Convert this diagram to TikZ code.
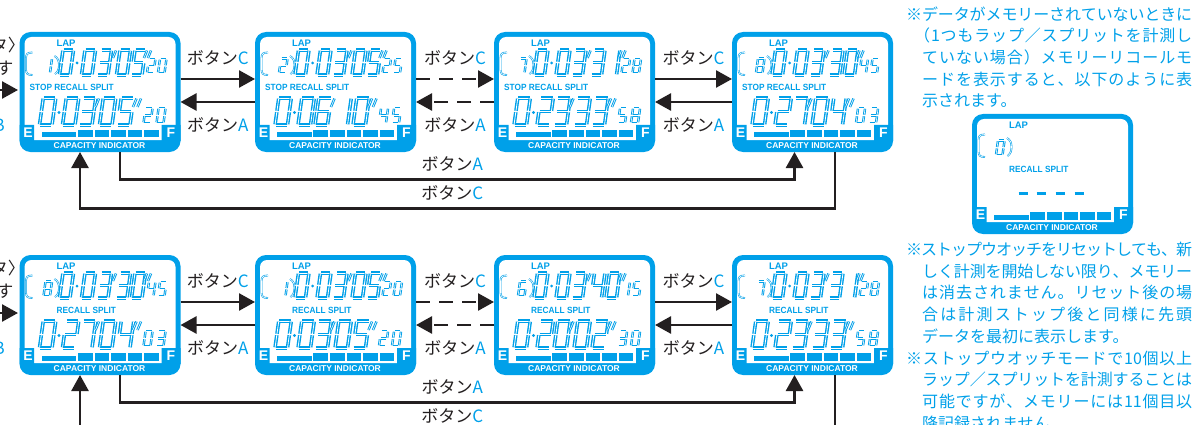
\documentclass[tikz,border=0pt]{standalone}
\usepackage{fontspec}
\usepackage{graphicx}
\usetikzlibrary{arrows.meta,calc}
\newfontfamily\jp{Noto Sans CJK JP}
\newfontfamily\lcdsans{Liberation Sans}
\definecolor{cy}{HTML}{00A0E9}
\definecolor{ink}{HTML}{231F20}

% justified line: spread characters over a given width
\def\jend{}
\def\jfirst#1{#1\jrest}
\def\jrest#1{\ifx\jend#1\else\hskip 0pt plus 1fil minus 1fil #1\expandafter\jrest\fi}
\newcommand\jline[2]{\makebox[#1][s]{\jfirst#2\jend}}

% seven segment digits
\def\sga{\draw[curseg] ({\gp},{-\h}) -- ({\w-\gp},{-\h});}
\def\sgb{\draw[curseg] ({\w},{-\h+\gp}) -- ({\w},{-\h/2-\gp});}
\def\sgc{\draw[curseg] ({\w},{-\h/2+\gp}) -- ({\w},{-\gp});}
\def\sgd{\draw[curseg] ({\gp},0) -- ({\w-\gp},0);}
\def\sge{\draw[curseg] (0,{-\h/2+\gp}) -- (0,{-\gp});}
\def\sgf{\draw[curseg] (0,{-\h+\gp}) -- (0,{-\h/2-\gp});}
\def\sgg{\draw[curseg] ({\gp},{-\h/2}) -- ({\w-\gp},{-\h/2});}
\expandafter\def\csname dgt0\endcsname{\sga\sgb\sgc\sgd\sge\sgf}
\expandafter\def\csname dgt1\endcsname{\sgb\sgc}
\expandafter\def\csname dgt2\endcsname{\sga\sgb\sgg\sge\sgd}
\expandafter\def\csname dgt3\endcsname{\sga\sgb\sgg\sgc\sgd}
\expandafter\def\csname dgt4\endcsname{\sgf\sgg\sgb\sgc}
\expandafter\def\csname dgt5\endcsname{\sga\sgf\sgg\sgc\sgd}
\expandafter\def\csname dgt6\endcsname{\sga\sgf\sgg\sge\sgc\sgd}
\expandafter\def\csname dgt7\endcsname{\sga\sgb\sgc}
\expandafter\def\csname dgt8\endcsname{\sga\sgb\sgc\sgd\sge\sgf\sgg}
\expandafter\def\csname dgt9\endcsname{\sga\sgb\sgc\sgd\sgf\sgg}
\expandafter\def\csname dgt-\endcsname{\sgg}
\newcommand\dg[6]{\begin{scope}[shift={(#1,#2)},xslant=0.14]\def\w{#3}\def\h{#4}\def\gp{0.7}\tikzset{curseg/.style={#6}}\csname dgt#5\endcsname\end{scope}}

\def\toptime#1#2#3#4#5#6#7{%
 \dg{40}{43}{10.5}{25}{#1}{bigseg}
 \fill[cy] (57.5,31) circle (1.5);
 \dg{62}{43}{10.5}{25}{#2}{bigseg}
 \dg{78}{43}{10.5}{25}{#3}{bigseg}
 \draw[smallseg] (93.5,26) -- (96.5,18.5);
 \dg{97}{43}{10.5}{25}{#4}{bigseg}
 \dg{112}{43}{10.5}{25}{#5}{bigseg}
 \draw[smallseg] (124.5,26) -- (127.5,18.5) (128.5,26) -- (131.5,18.5);
 \dg{127.5}{41}{6.5}{14}{#6}{smallseg}
 \dg{138.5}{41}{6.5}{14}{#7}{smallseg}}
\def\bottime#1#2#3#4#5#6#7{%
 \dg{20}{93}{12.5}{27}{#1}{bigseg}
 \fill[cy] (39.5,80.5) circle (1.6);
 \dg{43}{93}{12.5}{27}{#2}{bigseg}
 \dg{60}{93}{12.5}{27}{#3}{bigseg}
 \draw[smallseg] (76,75) -- (79.5,66.5);
 \dg{80}{93}{12.5}{27}{#4}{bigseg}
 \dg{98}{93}{12.5}{27}{#5}{bigseg}
 \draw[smallseg] (113.5,75) -- (117,66.5) (118,75) -- (121.5,66.5);
 \dg{124}{91}{7}{15}{#6}{smallseg}
 \dg{137}{91}{7}{15}{#7}{smallseg}}

\newcommand\lcdframe{%
 \fill[cy,rounded corners=11pt] (0,0) rectangle (161,120);
 \fill[white,rounded corners=7pt] (5,5) rectangle (156,108);
 \fill[cy] (0,93) rectangle (14.5,109) (142,93) rectangle (161,109);
 \node[lcdEF] at (8.5,101) {E};
 \node[lcdEF] at (151.5,101) {F};
 \fill[cy] (22,100.5) rectangle (56.5,105.5);
 \foreach \p/\q in {58/73,75/89.5,91.5/106,108/122.5,124.5/139}{\fill[cy] (\p,98) rectangle (\q,105.5);}
 \node[lcdtxt,text=white,font=\lcdsans\bfseries\fontsize{8.5}{8.5}\selectfont] at (80,114) {CAPACITY INDICATOR};
 \node[lcdtxt,font=\lcdsans\bfseries\fontsize{9.5}{9.5}\selectfont] at (46.5,11) {LAP};
 \draw[thinseg] (13,20.5) .. controls (8,20.5) and (6.5,22) .. (6.5,26) -- (6.5,37.5) .. controls (6.5,41.5) and (8,43) .. (13,43);
 \draw[thinseg] (35,24) .. controls (38.5,26) and (39.5,29) .. (39.5,33) .. controls (39.5,37) and (38.5,40) .. (35.5,42);
}
\newcommand\lcd[6]{%
 \begin{scope}[shift={(#1.north west)}]
  \lcdframe
  \dg{24}{41}{6.5}{14.5}{#2}{smallseg}
  \toptime#3
  \node[lcdtxt,anchor=west] at (#4,55) {\scalebox{0.92}[1]{#5}};
  \bottime#6
 \end{scope}}

\begin{document}
\begin{tikzpicture}[x=1pt,y=-1pt,
 lcdbox/.style={minimum width=161pt,minimum height=120pt,inner sep=0pt,outer sep=0pt},
 conn/.style={draw=ink,line width=2.6pt},
 tip/.style={-{Triangle[length=16pt,width=17pt]}},
 dashedconn/.style={dash pattern=on 14pt off 9pt},
 btn/.style={inner sep=0pt,text=ink,font=\jp\fontsize{17}{17}\selectfont},
 note/.style={inner sep=0pt,anchor=west,text=cy,font=\jp\fontsize{16}{16}\selectfont},
 bigseg/.style={draw=cy,line width=1.4pt,double=white,double distance=0.8pt},
 smallseg/.style={draw=cy,line width=0.95pt,double=white,double distance=0.55pt},
 thinseg/.style={draw=cy,line width=0.6pt,double=white,double distance=0.6pt},
 dashseg/.style={draw=cy,line width=3.2pt},
 lcdtxt/.style={inner sep=0pt,text=cy,font=\lcdsans\bfseries\fontsize{9}{9}\selectfont},
 lcdEF/.style={inner sep=0pt,text=white,font=\lcdsans\bfseries\fontsize{14}{14}\selectfont}]
\useasboundingbox (0,0) rectangle (1204,425);
\clip (0,0) rectangle (1204,425);

% boxes
\node[lcdbox] (t1) at (100,92) {};
\node[lcdbox] (t2) at (335.5,92) {};
\node[lcdbox] (t3) at (574.5,92) {};
\node[lcdbox] (t4) at (812.5,92) {};
\node[lcdbox] (b1) at (100,315) {};
\node[lcdbox] (b2) at (335.5,315) {};
\node[lcdbox] (b3) at (574.5,315) {};
\node[lcdbox] (b4) at (812.5,315) {};
\node[lcdbox] (m0) at (1052.5,174) {};

\lcd{t1}{1}{0030520}{10}{STOP RECALL SPLIT}{0030520}
\lcd{t2}{2}{0030525}{10}{STOP RECALL SPLIT}{0061045}
\lcd{t3}{7}{0033128}{10}{STOP RECALL SPLIT}{0233358}
\lcd{t4}{8}{0033045}{10}{STOP RECALL SPLIT}{0270403}
\lcd{b1}{8}{0033045}{37}{RECALL SPLIT}{0270403}
\lcd{b2}{1}{0030520}{37}{RECALL SPLIT}{0030520}
\lcd{b3}{6}{0034015}{37}{RECALL SPLIT}{0200230}
\lcd{b4}{7}{0033128}{37}{RECALL SPLIT}{0233358}

\begin{scope}[shift={(m0.north west)}]
 \lcdframe
 \dg{24}{41}{6.5}{14.5}{0}{smallseg}
 \node[lcdtxt,anchor=west] at (37,55) {\scalebox{0.92}[1]{RECALL SPLIT}};
 \dg{44}{93}{11}{27}{-}{dashseg}
 \dg{62}{93}{11}{27}{-}{dashseg}
 \dg{81}{93}{11}{27}{-}{dashseg}
 \dg{100}{93}{11}{27}{-}{dashseg}
\end{scope}

% horizontal arrows, both rows
\foreach \r in {t,b}{
 \draw[conn,tip] ($(\r1.north east)+(0,47)$) -- ($(\r2.north west)+(0,47)$);
 \draw[conn,tip] ($(\r2.north west)+(0,70)$) -- ($(\r1.north east)+(0,70)$);
 \draw[conn,tip,dashedconn] ($(\r2.north east)+(0,47)$) -- ($(\r3.north west)+(0,47)$);
 \draw[conn,tip,dashedconn] ($(\r3.north west)+(0,70)$) -- ($(\r2.north east)+(0,70)$);
 \draw[conn,tip] ($(\r3.north east)+(0,47)$) -- ($(\r4.north west)+(0,47)$);
 \draw[conn,tip] ($(\r4.north west)+(0,70)$) -- ($(\r3.north east)+(0,70)$);
 \node[btn] (\r c12) at ($(\r1.north east)!0.5!(\r2.north west)+(0,26)$) {ボタン\textcolor{cy}{C}};
 \node[btn] (\r a12) at ($(\r1.north east)!0.5!(\r2.north west)+(0,93)$) {ボタン\textcolor{cy}{A}};
 \node[btn] (\r c23) at ($(\r2.north east)!0.5!(\r3.north west)+(0,26)$) {ボタン\textcolor{cy}{C}};
 \node[btn] (\r a23) at ($(\r2.north east)!0.5!(\r3.north west)+(0,93)$) {ボタン\textcolor{cy}{A}};
 \node[btn] (\r c34) at ($(\r3.north east)!0.5!(\r4.north west)+(0,26)$) {ボタン\textcolor{cy}{C}};
 \node[btn] (\r a34) at ($(\r3.north east)!0.5!(\r4.north west)+(0,93)$) {ボタン\textcolor{cy}{A}};
 % incoming from the left edge
 \coordinate (\r in) at ($(\r1.north west)+(-60,58)$);
 \draw[conn,tip] (\r in) -- ($(\r1.north west)+(-1.5,58)$);
 \node[btn,anchor=east] (\r x1) at ($(\r1.north west)+(5.5,13)$) {タ〉};
 \node[btn,anchor=east] (\r x2) at ($(\r1.north west)+(-6,36)$) {す};
 \node[btn,anchor=east,text=cy] (\r x3) at ($(\r1.north west)+(-14.5,93)$) {B};
 % loops below
 \draw[conn,tip] ($(\r1.south west)+(100.5,0)$) -- ++(0,27.5) -| ($(\r4.south west)+(62.5,0)$);
 \draw[conn,tip] ($(\r4.south west)+(103,0)$) -- ++(0,56.5) -| ($(\r1.south west)+(60.5,0)$);
 \node[btn] (\r la) at ($(\r1.south west)!0.5!(\r4.south east)+(-4,12)$) {ボタン\textcolor{cy}{A}};
 \node[btn] (\r lc) at ($(\r1.south west)!0.5!(\r4.south east)+(-4,41)$) {ボタン\textcolor{cy}{C}};
}

% notes
\node[note] (n11) at (906,14) {\jline{286pt}{※データがメモリーされていないときに}};
\node[note] (n12) at (914,35.7) {\jline{278pt}{（1つもラップ／スプリットを計測し}};
\node[note] (n13) at (922,57.4) {\jline{270pt}{ていない場合）メモリーリコールモ}};
\node[note] (n14) at (922,79.1) {\jline{270pt}{ードを表示すると、以下のように表}};
\node[note] (n15) at (922,100.8) {示されます。};

\node[note] (n21) at (906,249.5) {\jline{286pt}{※ストップウオッチをリセットしても、新}};
\node[note] (n22) at (922,271.2) {\jline{270pt}{しく計測を開始しない限り、メモリー}};
\node[note] (n23) at (922,292.9) {\jline{270pt}{は消去されません。リセット後の場}};
\node[note] (n24) at (922,314.6) {\jline{270pt}{合は計測ストップ後と同様に先頭}};
\node[note] (n25) at (922,336.3) {データを最初に表示します。};
\node[note] (n31) at (906,358) {\jline{286pt}{※ストップウオッチモードで{10}個以上}};
\node[note] (n32) at (922,379.7) {\jline{270pt}{ラップ／スプリットを計測することは}};
\node[note] (n33) at (922,401.4) {\jline{270pt}{可能ですが、メモリーには{11}個目以}};
\node[note] (n34) at (922,423.1) {降記録されません。};
\end{tikzpicture}
\end{document}
